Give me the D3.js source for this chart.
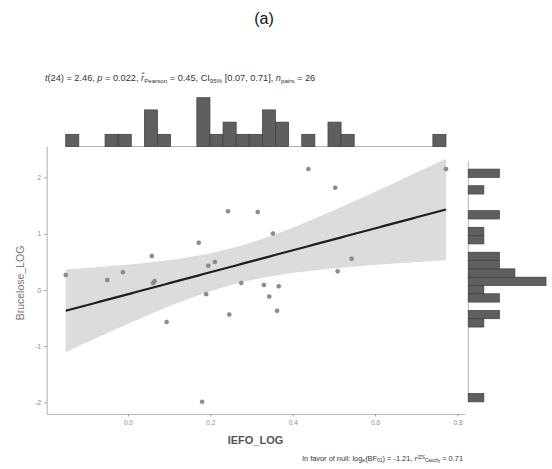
<!DOCTYPE html>
<html>
<head>
<meta charset="utf-8">
<script src="https://cdn.jsdelivr.net/npm/d3@7"></script>
<style>
    body { margin: 0; background: #fff; }
    svg { font-family: "Liberation Sans", Arial, sans-serif; }
</style>
</head>
<body>
<div id="chart"></div>
<script>
// Data.
const iefo_log = [-0.151, -0.050, -0.012, 0.058, 0.065, 0.061, 0.094, 0.172, 0.180, 0.190,
    0.195, 0.211, 0.243, 0.246, 0.275, 0.315, 0.330, 0.343, 0.352, 0.362,
    0.366, 0.438, 0.503, 0.509, 0.543, 0.772];
const brucelose_log = [0.267, 0.178, 0.315, 0.605, 0.160, 0.125, -0.569, 0.842, -1.99, -0.075,
    0.432, 0.498, 1.40, -0.436, 0.125, 1.385, 0.089, -0.116, 1.005, -0.37,
    0.066, 2.15, 1.82, 0.333, 0.557, 2.15];
const x_ticks = [0.0, 0.2, 0.4, 0.6, 0.8];
const y_ticks = [-2, -1, 0, 1, 2];
const x_bins = 29;
const y_bins = 28;
const t_crit = 2.064; // t quantile for 95% CI, df = 24

let data = iefo_log.map((x, i) => ({ x: x, y: brucelose_log[i] }));

let svg = d3.select("#chart")
    .append("svg")
        .attr("width", 552)
        .attr("height", 469);

let panel = { left: 46.7, right: 465, top: 146.5, bottom: 414 };

// Linear fit with confidence band.
let n = data.length;
let mx = d3.mean(data, d => d.x), my = d3.mean(data, d => d.y);
let sxx = d3.sum(data, d => (d.x - mx) * (d.x - mx));
let sxy = d3.sum(data, d => (d.x - mx) * (d.y - my));
let slope = sxy / sxx, intercept = my - slope * mx;
let sse = d3.sum(data, d => Math.pow(d.y - (intercept + slope * d.x), 2));
let s = Math.sqrt(sse / (n - 2));
let x_ext = d3.extent(iefo_log);
let fit = d3.range(0, 81).map(i => {
    let x = x_ext[0] + i * (x_ext[1] - x_ext[0]) / 80;
    let y = intercept + slope * x;
    let se = s * Math.sqrt(1 / n + (x - mx) * (x - mx) / sxx);
    return { x: x, y: y, lo: y - t_crit * se, hi: y + t_crit * se };
});

// Define scales (5% expansion like ggplot).
let xpad = (x_ext[1] - x_ext[0]) * 0.05;
let x_scale = d3.scaleLinear()
    .domain([x_ext[0] - xpad, x_ext[1] + xpad])
    .range([panel.left, panel.right]);
let y_lo = Math.min(d3.min(brucelose_log), d3.min(fit, d => d.lo));
let y_hi = Math.max(d3.max(brucelose_log), d3.max(fit, d => d.hi));
let ypad = (y_hi - y_lo) * 0.05;
let y_scale = d3.scaleLinear()
    .domain([y_lo - ypad, y_hi + ypad])
    .range([panel.bottom, panel.top]);

// Draw the confidence band.
svg.append("path")
    .datum(fit)
    .attr("fill", "#dcdcdc")
    .attr("d", d3.area()
        .x(d => x_scale(d.x))
        .y0(d => y_scale(d.lo))
        .y1(d => y_scale(d.hi)));

// Draw the points.
svg.selectAll("circle.pt")
    .data(data)
    .enter()
    .append("circle")
        .attr("class", "pt")
        .attr("cx", d => x_scale(d.x))
        .attr("cy", d => y_scale(d.y))
        .attr("r", 2)
        .attr("fill", "#8c8c8c")
        .attr("stroke", "#707070")
        .attr("stroke-width", 0.5);

// Draw the regression line.
svg.append("path")
    .datum(fit)
    .attr("fill", "none")
    .attr("stroke", "#1e1e1e")
    .attr("stroke-width", 2.2)
    .attr("d", d3.line()
        .x(d => x_scale(d.x))
        .y(d => y_scale(d.y)));

// Add the X axis.
let x_axis = svg.append("g")
    .attr("transform", "translate(0," + panel.bottom + ")")
    .call(d3.axisBottom(x_scale)
        .tickValues(x_ticks)
        .tickSize(2.5)
        .tickSizeOuter(0)
        .tickFormat(d3.format(".1f")));

// Add the Y axis.
let y_axis = svg.append("g")
    .attr("transform", "translate(" + panel.left + ",0)")
    .call(d3.axisLeft(y_scale)
        .tickValues(y_ticks)
        .tickSize(2.5)
        .tickSizeOuter(0)
        .tickFormat(d => String(d)));

[x_axis, y_axis].forEach(a => {
    a.select(".domain").attr("stroke", "#bdbdbd").attr("stroke-width", 1.2);
    a.selectAll(".tick line").attr("stroke", "#9a9a9a");
    a.selectAll(".tick text")
        .attr("fill", "#8a8a8a")
        .style("font-size", "6.5px");
});
x_axis.selectAll(".tick text").attr("dy", "0.9em");

// Axis labels.
svg.append("text")
    .attr("x", 255.5)
    .attr("y", 444)
    .attr("text-anchor", "middle")
    .attr("fill", "#555")
    .style("font-size", "11px")
    .style("font-weight", "bold")
    .text("IEFO_LOG");

svg.append("text")
    .attr("transform", "translate(23.5,283) rotate(-90)")
    .attr("text-anchor", "middle")
    .attr("fill", "#777")
    .style("font-size", "10.5px")
    .text("Brucelose_LOG");

// Top marginal histogram.
function make_bins(values, count) {
    let ext = d3.extent(values);
    let w = (ext[1] - ext[0]) / count;
    return d3.bin()
        .domain(ext)
        .thresholds(d3.range(1, count).map(i => ext[0] + i * w))(values);
}
let top_bins = make_bins(iefo_log, x_bins);
let top_base = 146.5;
let top_scale = d3.scaleLinear()
    .domain([0, d3.max(top_bins, b => b.length)])
    .range([top_base, top_base - 48.8]);

svg.append("line")
    .attr("x1", x_scale(top_bins[0].x0))
    .attr("x2", x_scale(top_bins[top_bins.length - 1].x1))
    .attr("y1", top_base)
    .attr("y2", top_base)
    .attr("stroke", "#b5b5b5")
    .attr("stroke-width", 1);

svg.selectAll("rect.top")
    .data(top_bins.filter(b => b.length > 0))
    .enter()
    .append("rect")
        .attr("class", "top")
        .attr("x", b => x_scale(b.x0))
        .attr("width", b => x_scale(b.x1) - x_scale(b.x0))
        .attr("y", b => top_scale(b.length))
        .attr("height", b => top_base - top_scale(b.length))
        .attr("fill", "#5f5f5f")
        .attr("stroke", "#3c3c3c")
        .attr("stroke-width", 0.7);

// Right marginal histogram.
let side_bins = make_bins(brucelose_log, y_bins);
let side_base = 468.3;
let side_scale = d3.scaleLinear()
    .domain([0, d3.max(side_bins, b => b.length)])
    .range([side_base, side_base + 77.7]);

svg.append("line")
    .attr("x1", side_base)
    .attr("x2", side_base)
    .attr("y1", y_scale(side_bins[side_bins.length - 1].x1) - 8)
    .attr("y2", y_scale(side_bins[0].x0))
    .attr("stroke", "#b5b5b5")
    .attr("stroke-width", 1);

svg.selectAll("rect.side")
    .data(side_bins.filter(b => b.length > 0))
    .enter()
    .append("rect")
        .attr("class", "side")
        .attr("x", side_base)
        .attr("width", b => side_scale(b.length) - side_base)
        .attr("y", b => y_scale(b.x1))
        .attr("height", b => y_scale(b.x0) - y_scale(b.x1))
        .attr("fill", "#5f5f5f")
        .attr("stroke", "#3c3c3c")
        .attr("stroke-width", 0.7);

// Title.
svg.append("text")
    .attr("x", 264)
    .attr("y", 24)
    .attr("text-anchor", "middle")
    .attr("fill", "#111")
    .style("font-size", "16px")
    .text("(a)");

// Subtitle with the frequentist statistics.
let sub = svg.append("text")
    .attr("x", 45)
    .attr("y", 80.5)
    .attr("fill", "#333")
    .style("font-size", "9.2px");
function part(el, txt, opts, small) {
    let t = el.append("tspan").text(txt);
    if (opts && opts.italic) t.style("font-style", "italic");
    if (opts && opts.sub) t.attr("baseline-shift", "-25%").style("font-size", small);
    if (opts && opts.sup) t.attr("baseline-shift", "35%").style("font-size", small);
    return t;
}
part(sub, "t", { italic: true });
part(sub, "(24) = 2.46, ");
part(sub, "p", { italic: true });
part(sub, " = 0.022, ");
part(sub, "r\u0302", { italic: true });
part(sub, "Pearson", { sub: true }, "6.2px");
part(sub, " = 0.45, CI");
part(sub, "95%", { sub: true }, "6.2px");
part(sub, " [0.07, 0.71], ");
part(sub, "n", { italic: true });
part(sub, "pairs", { sub: true }, "6.2px");
part(sub, " = 26");

// Caption with the Bayes factor.
let cap = svg.append("text")
    .attr("x", 463)
    .attr("y", 461)
    .attr("text-anchor", "end")
    .attr("fill", "#333")
    .style("font-size", "7.4px");
part(cap, "In favor of null: log");
part(cap, "e", { sub: true }, "5px");
part(cap, "(BF");
part(cap, "01", { sub: true }, "5px");
part(cap, ") = -1.21, ");
part(cap, "r", { italic: true });
part(cap, "JZS", { sup: true }, "4.5px");
part(cap, "Cauchy", { sub: true }, "4.5px");
part(cap, " = 0.71");
</script>
</body>
</html>
